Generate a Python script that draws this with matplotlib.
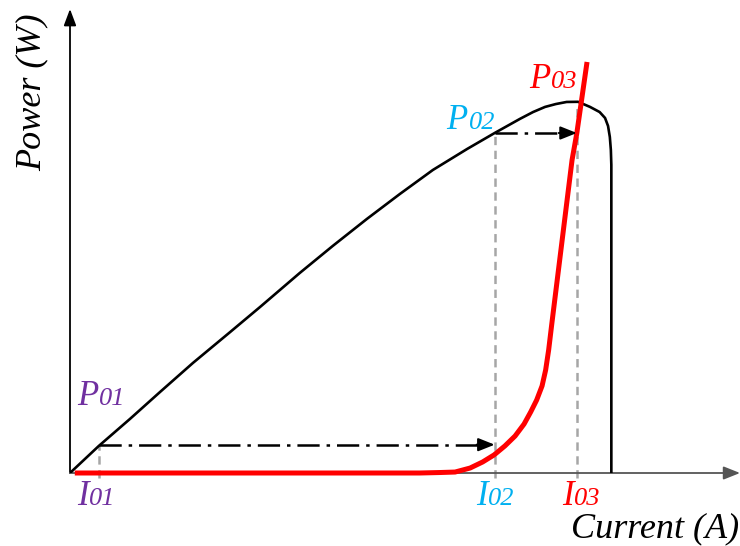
import matplotlib
matplotlib.use("Agg")
import matplotlib.pyplot as plt

plt.rcParams["lines.scale_dashes"] = False

# P-I characteristic of the source (current in A, power in W)
pv_current = [0.0, 0.48, 1.0, 1.5, 2.05, 2.67, 3.17, 3.83, 4.38, 4.95, 5.5,
              6.05, 6.62, 7.08, 7.5, 7.72, 7.92, 8.1, 8.28, 8.47, 8.67,
              8.83, 8.92, 8.97, 9.0, 9.017, 9.025, 9.025, 9.025]
pv_power = [0.0, 16.9, 33.8, 50.6, 68.8, 88.1, 103.8, 125.0, 141.9, 158.8,
            174.4, 189.4, 202.5, 212.5, 221.3, 225.6, 228.8, 230.6, 231.9,
            232.0, 228.8, 225.6, 221.9, 216.9, 210.0, 201.9, 192.5, 108.0,
            0.0]

# Load curve
load_current = [0.08, 5.83, 6.17, 6.42, 6.67, 6.88, 7.07, 7.25, 7.42, 7.57,
                7.68, 7.78, 7.87, 7.93, 7.98, 8.03, 8.37, 8.45, 8.62]
load_power = [0.0, 0.0, 0.3, 0.6, 3.1, 6.9, 11.3, 16.9, 23.1, 30.6,
              38.1, 45.6, 54.4, 64.4, 76.9, 92.5, 195.6, 212.5, 256.9]

# Operating points
op_current = [0.48, 7.08, 8.45]
op_power = [16.9, 212.5, 212.5]
op_sub = ["01", "02", "03"]
op_colors = ["#7030A0", "#00B0F0", "#FF0000"]

x_max, y_max = 11.17, 290.0

fig = plt.figure(figsize=(7.4, 5.46), dpi=100)
ax = fig.add_axes([70 / 740, 73 / 546, 670 / 740, 464 / 546])
ax.set_xlim(0, x_max)
ax.set_ylim(0, y_max)
ax.axis("off")

serif = "Liberation Serif"

# axes with arrow heads
ax.annotate("", xy=(0, 1), xytext=(0, 0), xycoords="axes fraction",
            arrowprops=dict(arrowstyle="-|>,head_length=0.4,head_width=0.15",
                            mutation_scale=25, lw=1.3, color="black",
                            shrinkA=0, shrinkB=0))
ax.annotate("", xy=(1, 0), xytext=(0, 0), xycoords="axes fraction",
            arrowprops=dict(arrowstyle="-|>,head_length=0.4,head_width=0.16",
                            mutation_scale=25, lw=1.3, color="#555555",
                            shrinkA=0, shrinkB=0))

# guide lines from operating points to the current axis
grey = "#A6A6A6"
for i, (ic, pc) in enumerate(zip(op_current, op_power)):
    top = pc if i < 2 else 231.5
    ax.plot([ic, ic], [-3.0, top], color=grey, lw=1.8, dashes=(6, 4),
            clip_on=False, zorder=1)

# curves
ax.plot(pv_current, pv_power, color="black", lw=1.9, zorder=3,
        solid_joinstyle="round")
ax.plot(load_current, load_power, color="#FF0000", lw=3.6, zorder=4,
        solid_capstyle="butt", solid_joinstyle="round", clip_on=False)

# transitions between operating points
def move(x0, x1, y):
    ax.plot([x0, x1 - 0.15], [y, y], color="black", lw=1.8,
            dashes=(16, 5, 2.5, 5), zorder=5)
    ax.annotate("", xy=(x1, y), xytext=(x1 - 0.3, y),
                arrowprops=dict(arrowstyle="-|>,head_length=0.45,head_width=0.18",
                                mutation_scale=22, lw=1.5, color="black",
                                shrinkA=0, shrinkB=0), zorder=6)

move(op_current[0], op_current[1], op_power[0] + 0.8)
move(op_current[1], op_current[2], op_power[1])


def sub_label(x, y, main, sub, color, dx, dy):
    t = ax.annotate(main, xy=(x, y), xytext=(dx, dy), textcoords="offset points",
                    fontsize=25, style="italic", family=serif, color=color,
                    ha="left", va="baseline", annotation_clip=False)
    ax.annotate(sub, xy=(1, 0), xycoords=t, xytext=(0.5, 2.0),
                textcoords="offset points", fontsize=19, style="italic",
                family=serif, color=color, ha="left", va="bottom",
                annotation_clip=False)


p_offsets = [(-15.8, 29.5), (-34.6, 3.0), (-34.6, 32.4)]
i_offsets = [(-15.8, -23.0), (-13.7, -23.0), (-10.8, -23.0)]
for k in range(3):
    sub_label(op_current[k], op_power[k], "P", op_sub[k], op_colors[k], *p_offsets[k])
    sub_label(op_current[k], 0, "I", op_sub[k], op_colors[k], *i_offsets[k])

fig.text(32 / 740, 1 - 92 / 546, "Power (W)", rotation=90, fontsize=26,
         style="italic", family=serif, ha="center", va="center")
fig.text(739 / 740, 1 - 529 / 546, "Current (A)", fontsize=26,
         style="italic", family=serif, ha="right", va="center")

fig.savefig("out.png", dpi=100)
